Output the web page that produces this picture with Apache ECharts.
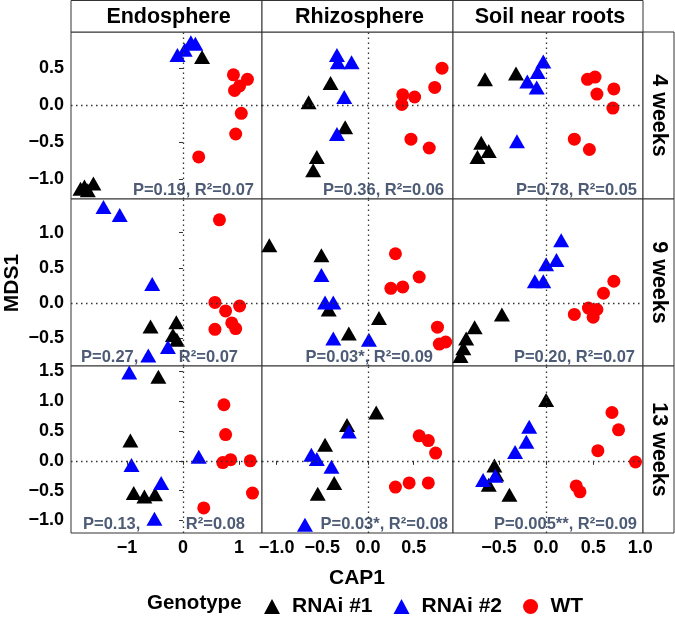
<!DOCTYPE html>
<html>
<head>
<meta charset="utf-8">
<script src="https://cdn.jsdelivr.net/npm/echarts@6/dist/echarts.min.js"></script>
<style>
html,body{margin:0;padding:0;background:#fff;}
#chart{width:675px;height:617px;}
</style>
</head>
<body>
<div id="chart"></div>
<script>
// ---------- data ----------
const compartments = ['Endosphere', 'Rhizosphere', 'Soil near roots'];
const timepoints = ['4 weeks', '9 weeks', '13 weeks'];
const genotypes = ['RNAi #1', 'RNAi #2', 'WT'];

// x ranges per column (CAP1) and y ranges per row (MDS1)
const xRanges = [[-2.0, 1.41], [-1.16, 0.93], [-0.99, 1.03]];
const yRanges = [[-1.27, 0.99], [-0.89, 1.475], [-1.21, 1.59]];
const xTicks = [[-1, 0, 1], [-1.0, -0.5, 0.0, 0.5], [-0.5, 0.0, 0.5, 1.0]];
const xTickLabels = [['−1', '0', '1'], ['−1.0', '−0.5', '0.0', '0.5'], ['−0.5', '0.0', '0.5', '1.0']];
const yTicks = [[0.5, 0.0, -0.5, -1.0], [1.0, 0.5, 0.0, -0.5], [1.5, 1.0, 0.5, 0.0, -0.5, -1.0]];
const yTickLabels = [['0.5', '0.0', '−0.5', '−1.0'], ['1.0', '0.5', '0.0', '−0.5'], ['1.5', '1.0', '0.5', '0.0', '−0.5', '−1.0']];

// Endosphere
const endo4_rnai1 = [[0.34, 0.65], [-1.83, -1.13], [-1.70, -1.15], [-1.60, -1.06], [-1.76, -1.10]];
const endo4_rnai2 = [[-0.10, 0.68], [0.03, 0.75], [0.14, 0.85], [0.22, 0.83]];
const endo4_wt = [[0.90, 0.41], [1.15, 0.35], [1.01, 0.26], [0.92, 0.20], [1.04, -0.11], [0.94, -0.39], [0.28, -0.70]];
const endo9_rnai1 = [[-0.58, -0.33], [-0.12, -0.27], [-0.18, -0.45], [-0.11, -0.52]];
const endo9_rnai2 = [[-1.42, 1.36], [-1.13, 1.25], [-0.55, 0.27], [-0.27, -0.62], [-0.62, -0.74]];
const endo9_wt = [[0.65, 1.18], [0.57, 0.01], [0.76, -0.11], [1.01, -0.04], [0.87, -0.28], [0.57, -0.37], [0.94, -0.36]];
const endo13_rnai1 = [[-0.44, 1.41], [-0.94, 0.34], [-0.88, -0.54], [-0.69, -0.60], [-0.50, -0.56]];
const endo13_rnai2 = [[-0.96, 1.48], [-0.92, -0.07], [-0.39, -0.37], [-0.51, -0.97], [0.28, 0.07]];
const endo13_wt = [[0.73, 0.94], [0.76, 0.44], [0.71, -0.03], [0.85, 0.02], [1.20, 0.0], [1.24, -0.54], [0.37, -0.79]];
// Rhizosphere
const rhizo4_rnai1 = [[-0.41, 0.30], [-0.65, 0.04], [-0.25, -0.30], [-0.56, -0.70], [-0.60, -0.88]];
const rhizo4_rnai2 = [[-0.34, 0.68], [-0.33, 0.58], [-0.18, 0.58], [-0.26, 0.11], [-0.34, -0.39]];
const rhizo4_wt = [[0.81, 0.50], [0.73, 0.24], [0.51, 0.11], [0.38, 0.14], [0.37, 0.01], [0.47, -0.46], [0.67, -0.58]];
const rhizo9_rnai1 = [[-1.08, 0.82], [-0.51, 0.68], [-0.43, -0.09], [0.12, -0.21], [-0.21, -0.43]];
const rhizo9_rnai2 = [[-0.51, 0.40], [-0.47, 0.01], [-0.38, 0.01], [-0.38, -0.50], [0.01, -0.52]];
const rhizo9_wt = [[0.30, 0.70], [0.56, 0.37], [0.25, 0.21], [0.38, 0.23], [0.76, -0.34], [0.85, -0.55], [0.78, -0.58]];
const rhizo13_rnai1 = [[0.09, 0.81], [-0.23, 0.60], [-0.47, 0.27], [-0.37, -0.37], [-0.55, -0.55]];
const rhizo13_rnai2 = [[-0.21, 0.49], [-0.62, 0.10], [-0.56, 0.03], [-0.40, -0.10], [-0.69, -1.07]];
const rhizo13_wt = [[0.56, 0.42], [0.66, 0.34], [0.74, 0.13], [0.30, -0.44], [0.45, -0.37], [0.66, -0.37]];
// Soil near roots
const soil4_rnai1 = [[-0.65, 0.35], [-0.32, 0.43], [-0.69, -0.51], [-0.61, -0.62], [-0.73, -0.70]];
const soil4_rnai2 = [[-0.03, 0.59], [-0.09, 0.45], [-0.20, 0.32], [-0.10, 0.24], [-0.31, -0.49]];
const soil4_wt = [[0.44, 0.35], [0.52, 0.38], [0.72, 0.22], [0.54, 0.15], [0.71, -0.04], [0.30, -0.46], [0.46, -0.60]];
const soil9_rnai1 = [[-0.47, -0.16], [-0.76, -0.34], [-0.85, -0.50], [-0.88, -0.64], [-0.91, -0.75]];
const soil9_rnai2 = [[0.16, 0.89], [0.11, 0.61], [0.0, 0.55], [-0.12, 0.31], [-0.03, 0.31]];
const soil9_wt = [[0.72, 0.31], [0.61, 0.14], [0.45, -0.07], [0.54, -0.09], [0.30, -0.16], [0.50, -0.20]];
const soil13_rnai1 = [[0.0, 1.02], [-0.55, -0.08], [-0.53, -0.23], [-0.61, -0.40], [-0.39, -0.57]];
const soil13_rnai2 = [[-0.18, 0.57], [-0.21, 0.32], [-0.33, 0.15], [-0.67, -0.32], [-0.54, -0.25]];
const soil13_wt = [[0.70, 0.81], [0.77, 0.52], [0.55, 0.17], [0.95, -0.02], [0.32, -0.42], [0.36, -0.52]];

// statistics annotations [row][col]
const statLabels = [
  [['P=0.19, R²=0.07'], ['P=0.36, R²=0.06'], ['P=0.78, R²=0.05']],
  [['P=0.27,', 'R²=0.07'], ['P=0.03*, R²=0.09'], ['P=0.20, R²=0.07']],
  [['P=0.13,', 'R²=0.08'], ['P=0.03*, R²=0.08'], ['P=0.005**, R²=0.09']]
];

const panelData = [
  [[endo4_rnai1, endo4_rnai2, endo4_wt], [rhizo4_rnai1, rhizo4_rnai2, rhizo4_wt], [soil4_rnai1, soil4_rnai2, soil4_wt]],
  [[endo9_rnai1, endo9_rnai2, endo9_wt], [rhizo9_rnai1, rhizo9_rnai2, rhizo9_wt], [soil9_rnai1, soil9_rnai2, soil9_wt]],
  [[endo13_rnai1, endo13_rnai2, endo13_wt], [rhizo13_rnai1, rhizo13_rnai2, rhizo13_wt], [soil13_rnai1, soil13_rnai2, soil13_wt]]
];

// ---------- layout / style ----------
const FONT = "'Liberation Sans', Arial, Helvetica, sans-serif";
const colLeft = [71, 262, 453];
const colW = [191, 191, 190];
const rowTop = [32, 199, 366];
const rowH = 167;
const stripRightX = 643, stripRightW = 31;
const colors = ['#000000', '#0000ff', '#ff0000'];
const symbols = ['triangle', 'triangle', 'circle'];
const symbolSizes = [[16, 14], [16, 14], 13];
const statColor = '#4d5b75';
const statFont = 'bold 16.5px ' + FONT;
const borderColor = '#333333';
// right-edge inset of the stat text per panel, and left inset for split labels
const statRightInset = [[8, 9, 6], [24, 20, 8], [17, 5, 6]];
const statLeftInset = [10, 12];

const grids = [], xAxes = [], yAxes = [], series = [], graphics = [];
let idx = 0;
for (let r = 0; r < 3; r++) {
  for (let c = 0; c < 3; c++) {
    grids.push({
      left: colLeft[c], top: rowTop[r], width: colW[c], height: rowH,
      show: true, borderColor: borderColor, borderWidth: 1, backgroundColor: '#fff', containLabel: false
    });
    const bottom = r === 2, leftSide = c === 0;
    xAxes.push({
      type: 'value', gridIndex: idx, min: xRanges[c][0], max: xRanges[c][1],
      axisLine: { show: false }, splitLine: { show: false },
      axisTick: { show: bottom, length: 4, lineStyle: { color: borderColor }, customValues: xTicks[c] },
      axisLabel: {
        show: bottom, customValues: xTicks[c], margin: 6,
        fontFamily: FONT, fontWeight: 'bold', fontSize: 18, color: '#000',
        formatter: v => xTickLabels[c][xTicks[c].findIndex(t => Math.abs(t - v) < 1e-9)]
      }
    });
    yAxes.push({
      type: 'value', gridIndex: idx, min: yRanges[r][0], max: yRanges[r][1],
      axisLine: { show: false }, splitLine: { show: false },
      axisTick: { show: leftSide, length: 4, lineStyle: { color: borderColor }, customValues: yTicks[r] },
      axisLabel: {
        show: leftSide, customValues: yTicks[r], margin: 7,
        fontFamily: FONT, fontWeight: 'bold', fontSize: 18, color: '#000',
        formatter: v => yTickLabels[r][yTicks[r].findIndex(t => Math.abs(t - v) < 1e-9)]
      }
    });
    for (let g = 0; g < 3; g++) {
      const s = {
        type: 'scatter', name: genotypes[g], xAxisIndex: idx, yAxisIndex: idx,
        data: panelData[r][c][g], symbol: symbols[g], symbolSize: symbolSizes[g],
        itemStyle: { color: colors[g], opacity: 1 }, silent: true, z: 3
      };
      if (g === 0) {
        s.markLine = {
          silent: true, symbol: 'none', label: { show: false }, animation: false,
          lineStyle: { type: [1.5, 3.5], color: '#333', width: 1.3 },
          data: [{ xAxis: 0 }, { yAxis: 0 }]
        };
      }
      series.push(s);
    }
    // stat annotations
    const labs = statLabels[r][c];
    const ty = rowTop[r] + rowH - 9;
    const rx = colLeft[c] + colW[c] - statRightInset[r][c];
    if (labs.length === 1) {
      graphics.push({
        type: 'text', x: rx, y: ty, z: 2,
        style: { text: labs[0], fill: statColor, font: statFont, textAlign: 'right', textVerticalAlign: 'middle' }
      });
    } else {
      graphics.push({
        type: 'text', x: colLeft[c] + statLeftInset[r - 1], y: ty, z: 2,
        style: { text: labs[0], fill: statColor, font: statFont, textAlign: 'left', textVerticalAlign: 'middle' }
      });
      graphics.push({
        type: 'text', x: rx, y: ty, z: 2,
        style: { text: labs[1], fill: statColor, font: statFont, textAlign: 'right', textVerticalAlign: 'middle' }
      });
    }
    idx++;
  }
}

// top strips
for (let c = 0; c < 3; c++) {
  graphics.push({
    type: 'rect', shape: { x: colLeft[c], y: 0.5, width: colW[c], height: 31.5 },
    style: { fill: '#fff', stroke: borderColor, lineWidth: 1 }, z: 1
  });
  graphics.push({
    type: 'text', x: colLeft[c] + colW[c] / 2 + 2, y: 17, z: 2,
    style: { text: compartments[c], fill: '#000', font: 'bold 21.5px ' + FONT, textAlign: 'center', textVerticalAlign: 'middle' }
  });
}
// right strips
for (let r = 0; r < 3; r++) {
  graphics.push({
    type: 'rect', shape: { x: stripRightX, y: rowTop[r], width: stripRightW, height: rowH },
    style: { fill: '#fff', stroke: borderColor, lineWidth: 1 }, z: 1
  });
  graphics.push({
    type: 'text', x: stripRightX + stripRightW / 2, y: rowTop[r] + rowH / 2, rotation: -Math.PI / 2, z: 2,
    style: { text: timepoints[r], fill: '#000', font: 'bold 21.5px ' + FONT, textAlign: 'center', textVerticalAlign: 'middle' }
  });
}
// axis titles
graphics.push({
  type: 'text', x: 357, y: 578, z: 2,
  style: { text: 'CAP1', fill: '#000', font: 'bold 21px ' + FONT, textAlign: 'center', textVerticalAlign: 'middle' }
});
graphics.push({
  type: 'text', x: 12, y: 283, rotation: Math.PI / 2, z: 2,
  style: { text: 'MDS1', fill: '#000', font: 'bold 21px ' + FONT, textAlign: 'center', textVerticalAlign: 'middle' }
});
graphics.push({
  type: 'text', x: 147, y: 603, z: 2,
  style: { text: 'Genotype', fill: '#000', font: 'bold 20.5px ' + FONT, textAlign: 'left', textVerticalAlign: 'middle' }
});

const chart = echarts.init(document.getElementById('chart'), null, { renderer: 'canvas' });
chart.setOption({
  animation: false,
  backgroundColor: '#fff',
  grid: grids,
  xAxis: xAxes,
  yAxis: yAxes,
  series: series,
  legend: {
    data: [{ name: 'RNAi #1', icon: 'triangle' }, { name: 'RNAi #2', icon: 'triangle' }, { name: 'WT', icon: 'circle' }],
    left: 259, top: 591, itemWidth: 16, itemHeight: 15, itemGap: 21, selectedMode: false,
    textStyle: { fontFamily: FONT, fontWeight: 'bold', fontSize: 21, color: '#000', padding: [0, 0, 0, 7] }
  },
  graphic: graphics
});
</script>
</body>
</html>
